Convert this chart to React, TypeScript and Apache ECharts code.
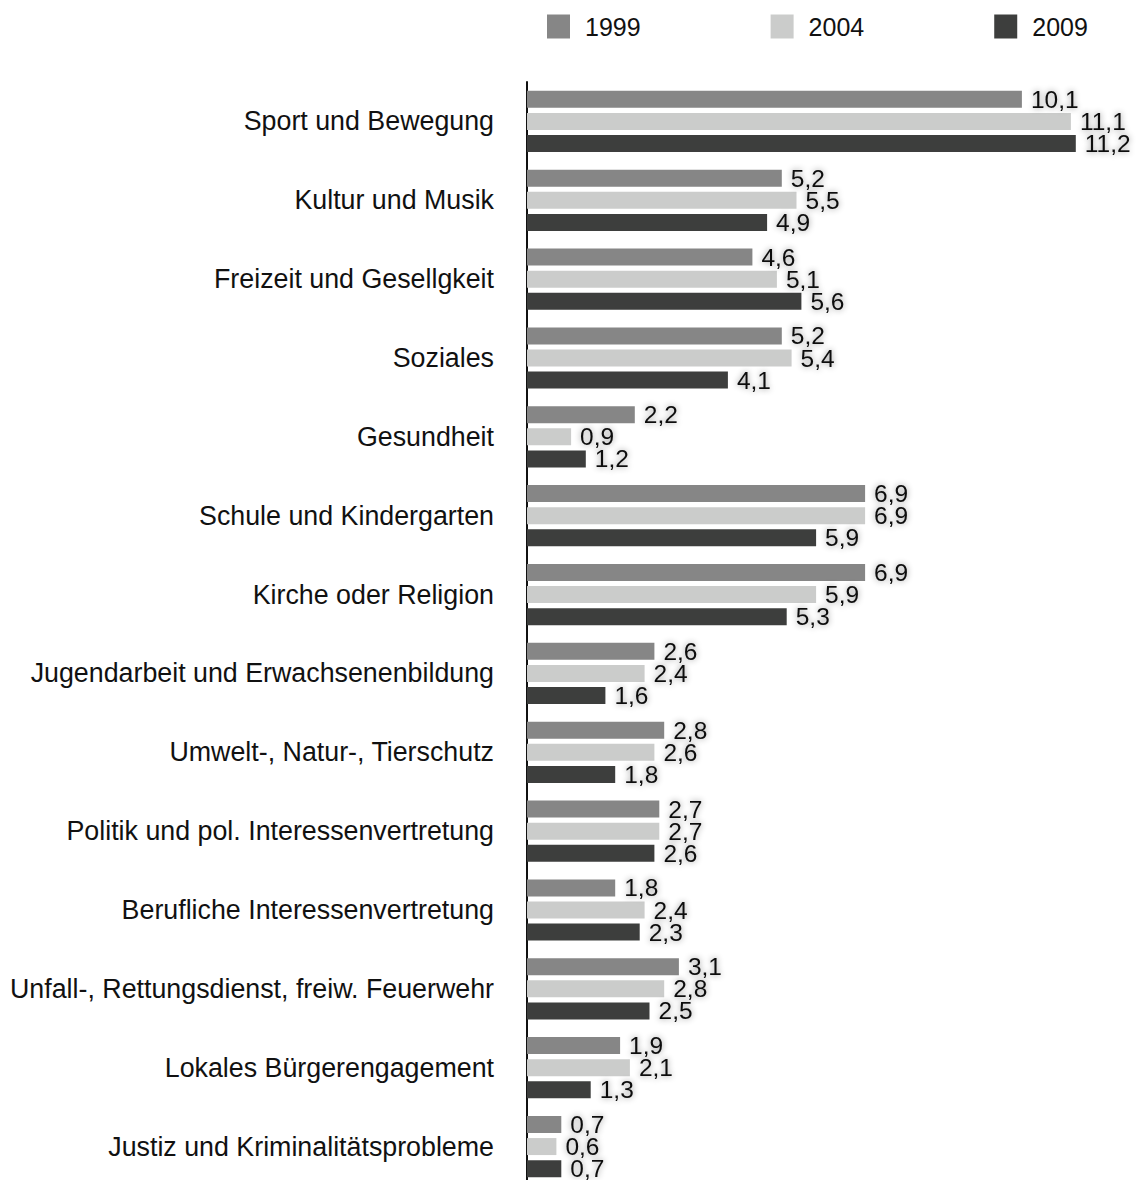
import React, { useEffect, useRef } from "react";
import * as echarts from "echarts";

const categories = [
  "Sport und Bewegung",
  "Kultur und Musik",
  "Freizeit und Gesellgkeit",
  "Soziales",
  "Gesundheit",
  "Schule und Kindergarten",
  "Kirche oder Religion",
  "Jugendarbeit und Erwachsenenbildung",
  "Umwelt-, Natur-, Tierschutz",
  "Politik und pol. Interessenvertretung",
  "Berufliche Interessenvertretung",
  "Unfall-, Rettungsdienst, freiw. Feuerwehr",
  "Lokales Bürgerengagement",
  "Justiz und Kriminalitätsprobleme",
];

const seriesNames = ["1999", "2004", "2009"];
const values1999 = [10.1, 5.2, 4.6, 5.2, 2.2, 6.9, 6.9, 2.6, 2.8, 2.7, 1.8, 3.1, 1.9, 0.7];
const values2004 = [11.1, 5.5, 5.1, 5.4, 0.9, 6.9, 5.9, 2.4, 2.6, 2.7, 2.4, 2.8, 2.1, 0.6];
const values2009 = [11.2, 4.9, 5.6, 4.1, 1.2, 5.9, 5.3, 1.6, 1.8, 2.6, 2.3, 2.5, 1.3, 0.7];
const colors = ["#868686", "#cbcccb", "#3d3e3d"];

const FONT = "'Liberation Sans', Arial, Helvetica, sans-serif";

export default function App() {
  const ref = useRef<HTMLDivElement>(null);
  useEffect(() => {
    if (!ref.current) return;
    const chart = echarts.init(ref.current, null, { renderer: "svg" });
    const data = [values1999, values2004, values2009];
    chart.setOption({
      animation: false,
      backgroundColor: "#ffffff",
      textStyle: { fontFamily: FONT },
      legend: {
        left: 542,
        top: 9,
        itemWidth: 23,
        itemHeight: 24,
        itemGap: 130,
        icon: "rect",
        data: seriesNames,
        textStyle: {
          fontSize: 25,
          color: "#111",
          fontFamily: FONT,
          padding: [0, 0, 0, 10],
        },
      },
      grid: { left: 527, right: 21, top: 82, bottom: 0, containLabel: false },
      xAxis: {
        type: "value",
        min: 0,
        max: 12,
        show: false,
      },
      yAxis: {
        type: "category",
        data: categories,
        inverse: true,
        axisLine: { show: true, lineStyle: { color: "#111", width: 2 } },
        axisTick: { show: false },
        splitLine: { show: false },
        axisLabel: {
          fontSize: 26.8,
          color: "#111",
          margin: 33,
          fontFamily: FONT,
        },
      },
      series: seriesNames.map((name, i) => ({
        name,
        type: "bar",
        data: data[i],
        barWidth: 17,
        barGap: "30%",
        itemStyle: { color: colors[i] },
        label: {
          show: true,
          position: "right",
          distance: 9,
          fontSize: 24.5,
          color: "#111",
          fontFamily: FONT,
          textShadowColor: "rgba(0,0,0,0.45)",
          textShadowBlur: 6,
          formatter: (p: any) => Number(p.value).toFixed(1).replace(".", ","),
        },
      })),
    });
    return () => chart.dispose();
  }, []);
  return (
    <div
      style={{
        position: "absolute",
        left: 0,
        top: 0,
        width: 1136,
        height: 1180,
        overflow: "hidden",
        background: "#fff",
      }}
    >
      <div ref={ref} style={{ width: 1136, height: 1186 }} />
    </div>
  );
}
